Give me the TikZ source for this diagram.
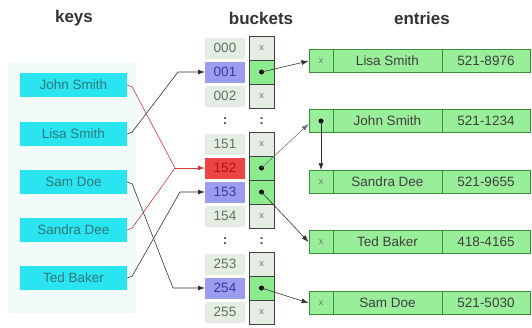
\documentclass[tikz,border=0pt]{standalone}
\usepackage{fontspec}
\setmainfont{Liberation Sans}
\usetikzlibrary{arrows.meta}
\definecolor{keycyan}{HTML}{2AE4F0}
\definecolor{keytext}{HTML}{2F7A7A}
\definecolor{panel}{HTML}{F3FAFA}
\definecolor{idxbg}{HTML}{E4ECE4}
\definecolor{idxtext}{HTML}{5F735F}
\definecolor{hlblue}{HTML}{9C9CEE}
\definecolor{hlbluetext}{HTML}{3A3AAA}
\definecolor{hlred}{HTML}{EE4444}
\definecolor{hlredtext}{HTML}{AA1515}
\definecolor{valempty}{HTML}{E4ECE4}
\definecolor{valfull}{HTML}{8CEB8C}
\definecolor{entryfill}{HTML}{99EE99}
\definecolor{entryborder}{HTML}{3C8C3C}
\definecolor{linkred}{HTML}{CC3A3A}
\begin{document}
\begin{tikzpicture}[x=1pt,y=-1pt,
  title/.style={font=\fontsize{17}{17}\selectfont\bfseries, text=black!80},
  keybox/.style={rectangle, fill=keycyan, minimum width=107pt, minimum height=24pt, inner sep=0pt,
    font=\fontsize{13.5}{13.5}\selectfont, text=keytext},
  idx/.style={rectangle, fill=idxbg, minimum width=40pt, minimum height=21pt, inner sep=0pt,
    font=\fontsize{13.5}{13.5}\selectfont, text=idxtext},
  idxblue/.style={idx, fill=hlblue, text=hlbluetext},
  idxred/.style={idx, fill=hlred, text=hlredtext},
  valcell/.style={rectangle, draw=black!75, line width=0.8pt, fill=valempty, minimum width=25pt,
    minimum height=24pt, inner sep=0pt, font=\fontsize{9}{9}\selectfont, text=black!55},
  valfullcell/.style={valcell, fill=valfull},
  dotn/.style={circle, fill=black, minimum size=5pt, inner sep=0pt},
  ecell/.style={rectangle, draw=entryborder, line width=0.9pt, fill=entryfill, minimum height=23pt,
    inner sep=0pt, font=\fontsize{13.5}{13.5}\selectfont, text=black!75},
  eptr/.style={ecell, minimum width=24pt, font=\fontsize{9}{9}\selectfont, text=black!55},
  ename/.style={ecell, minimum width=109pt},
  ephone/.style={ecell, minimum width=88pt},
  link/.style={draw=black!80, line width=0.6pt},
  redlink/.style={draw=linkred, line width=0.6pt},
  arr/.style={-{Latex[length=7pt,width=5pt]}},
  dots/.style={font=\fontsize{13.5}{13.5}\selectfont\bfseries, text=black!70}
]
\useasboundingbox (0,0) rectangle (532,327);

% titles
\node[title] (tkeys) at (74,18) {keys};
\node[title] (tbuckets) at (261,18) {buckets};
\node[title] (tentries) at (422,18) {entries};

% keys panel
\fill[panel] (8,62) rectangle (137,313);
\node[keybox] (kjs) at (73.5,85) {John Smith};
\node[keybox] (kls) at (73.5,134) {Lisa Smith};
\node[keybox] (ksd) at (73.5,182) {Sam Doe};
\node[keybox] (ksa) at (73.5,230) {Sandra Dee};
\node[keybox] (ktb) at (73.5,278) {Ted Baker};

% bucket indices
\node[idx] (i000) at (225,48) {000};
\node[idxblue] (i001) at (225,72) {001};
\node[idx] (i002) at (225,96) {002};
\node[dots] (id1) at (225,121) {:};
\node[idx] (i151) at (225,144) {151};
\node[idxred] (i152) at (225,168) {152};
\node[idxblue] (i153) at (225,192) {153};
\node[idx] (i154) at (225,216) {154};
\node[dots] (id2) at (225,241) {:};
\node[idx] (i253) at (225,264) {253};
\node[idxblue] (i254) at (225,288) {254};
\node[idx] (i255) at (225,312) {255};

% bucket values
\node[valcell] (v000) at (261.5,48) {x};
\node[valfullcell] (v001) at (261.5,72) {};
\node[valcell] (v002) at (261.5,96) {x};
\node[dots] (vd1) at (261.5,121) {:};
\node[valcell] (v151) at (261.5,144) {x};
\node[valfullcell] (v152) at (261.5,168) {};
\node[valfullcell] (v153) at (261.5,192) {};
\node[valcell] (v154) at (261.5,216) {x};
\node[dots] (vd2) at (261.5,241) {:};
\node[valcell] (v253) at (261.5,264) {x};
\node[valfullcell] (v254) at (261.5,288) {};
\node[valcell] (v255) at (261.5,312) {x};
\node[dotn] (d001) at (v001.center) {};
\node[dotn] (d152) at (v152.center) {};
\node[dotn] (d153) at (v153.center) {};
\node[dotn] (d254) at (v254.center) {};

% entries
\node[eptr] (p1) at (321,61) {x};
\node[ename] (n1) at (387.5,61) {Lisa Smith};
\node[ephone] (ph1) at (486,61) {521-8976};
\node[eptr] (p2) at (321,121) {};
\node[ename] (n2) at (387.5,121) {John Smith};
\node[ephone] (ph2) at (486,121) {521-1234};
\node[eptr] (p3) at (321,182) {x};
\node[ename] (n3) at (387.5,182) {Sandra Dee};
\node[ephone] (ph3) at (486,182) {521-9655};
\node[eptr] (p4) at (321,242) {x};
\node[ename] (n4) at (387.5,242) {Ted Baker};
\node[ephone] (ph4) at (486,242) {418-4165};
\node[eptr] (p5) at (321,303) {x};
\node[ename] (n5) at (387.5,303) {Sam Doe};
\node[ephone] (ph5) at (486,303) {521-5030};
\node[dotn] (dp2) at (p2.center) {};

% key -> bucket links
\coordinate (bjs) at (175,168);
\coordinate (bls) at (178,72);
\coordinate (bsd) at (173,288);
\coordinate (bsa) at (175,168);
\coordinate (btb) at (180,192);
\draw[redlink] (kjs.east) -- ++(5,2) -- (bjs);
\draw[redlink] (ksa.east) -- ++(5,-2) -- (bsa);
\draw[redlink,arr] (bjs) -- (i152.west);
\draw[link,arr] (kls.east) -- ++(5,-2) -- (bls) -- (i001.west);
\draw[link,arr] (ksd.east) -- ++(5,2) -- (bsd) -- (i254.west);
\draw[link,arr] (ktb.east) -- ++(5,-2) -- (btb) -- (i153.west);

% bucket -> entry links
\draw[link,arr] (d001.center) -- (p1.west);
\draw[link,draw=black!55,arr] (d152.center) -- ([yshift=-3pt]p2.west);
\draw[link,arr] (d153.center) -- (p4.west);
\draw[link,arr] (d254.center) -- (p5.west);
\draw[link,arr] (dp2.center) -- (p3.north);
\end{tikzpicture}
\end{document}
